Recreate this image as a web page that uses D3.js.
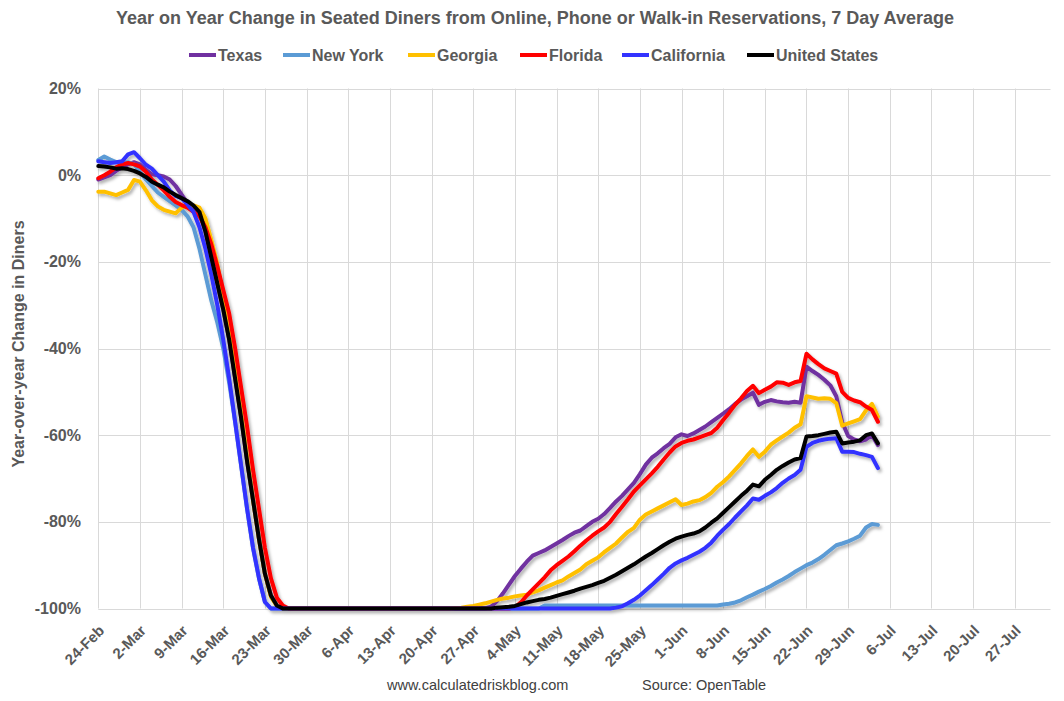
<!DOCTYPE html>
<html>
<head>
  <meta charset="utf-8">
  <style>
    body { margin: 0; background: #fff; }
    svg { font-family: "Liberation Sans", Arial, sans-serif; }
    .grid line { stroke: #d9d9d9; stroke-width: 1; }
    .series { fill: none; stroke-width: 4; stroke-linejoin: round; stroke-linecap: round; }
    .tick-label { font-weight: bold; fill: #595959; }
  </style>
</head>
<body>
  <svg width="1064" height="701"></svg>
  <script src="https://d3js.org/d3.v7.min.js"></script>
  <script>
    // daily values, first day 24-Feb-2020
    const startDate = new Date(2020, 1, 24);
    const endDate = new Date(2020, 7, 2);

    const texas = [-1,-0.5,0,1,1.8,2.5,3,2.5,1.2,0.2, 0,-0.3,-1,-2.5,-4.5,-6.5,-7.5,-9,-13,-19,
      -25,-31,-38,-47,-56,-66,-75,-84,-92,-97, -99.3,
      -100,-100,-100,-100,-100,-100,-100,-100,-100,-100,-100,-100,-100,-100,-100,-100,-100,-100,
      -100,-100,-100,-100,-100,-100,-100,-100,-100,-100,-100,-100,-100,-100,-100,-100,-100,
      -99.6,-98.3,-96.5,-94.5,-92.5,-90.8,-89.2,-87.8,-87.2,-86.6,
      -85.8,-85,-84.2,-83.3,-82.5,-82,-81,-80,-79.3,-78.2,
      -76.8,-75.3,-74,-72.5,-71,-69,-66.8,-65.2,-64.2,-63,
      -62,-60.5,-59.8,-60.2,-59.6,-58.8,-58,-57,-56,-55,
      -54,-52.8,-51.8,-51,-50.2,-53,-52.3,-51.9,-52.2,-52.4,
      -52.5,-52.3,-52.5,-44.2,-45.2,-46.1,-47.2,-48.5,-51,-57,
      -60.2,-61,-61.4,-61,-60,-62.3];

    const newYork = [3.5,4.3,3.6,3,3,3,2.5,0.8,-1,-2.5, -4,-5,-6,-7,-8,-9.5,-12,-17,-23,-29,
      -34,-40,-48,-57,-67,-77,-86,-93,-98.5,
      -100,-100,-100,-100,-100,-100,-100,-100,-100,-100,-100,-100,-100,-100,-100,-100,
      -100,-100,-100,-100,-100,-100,-100,-100,-100,-100,-100,-100,-100,-100,-100,-100,
      -100,-100,-100,-100,-100,-100,-100,-100,-100,-100,-100,-100,-100,-100,
      -99.3,-99.3,-99.3,-99.3,-99.3,-99.3,-99.3,-99.3,-99.3,-99.3,-99.3,-99.3,-99.3,-99.3,-99.3,
      -99.3,-99.3,-99.3,-99.3,-99.3,-99.3,-99.3,-99.3,-99.3,-99.3,-99.3,-99.3,-99.3,-99.3,-99.3,
      -99.1,-98.9,-98.6,-98.1,-97.4,-96.8,-96.1,-95.5,-94.8,-94,
      -93.3,-92.5,-91.6,-90.8,-90,-89.4,-88.6,-87.6,-86.5,-85.4,
      -85,-84.5,-83.9,-83.2,-81.3,-80.5,-80.7];

    const georgia = [-3.8,-3.8,-4.2,-4.6,-4,-3.4,-1.1,-1.5,-3.5,-5.8, -7.2,-8,-8.4,-8.8,-7.5,-6.8,-7,-7.5,-10,-15,
      -20.5,-28,-36,-45.5,-55,-65,-75,-84,-92,-97.3, -99.4,
      -100,-100,-100,-100,-100,-100,-100,-100,-100,-100,-100,-100,-100,-100,-100,
      -100,-100,-100,-100,-100,-100,-100,-100,-100,-100,-100,-100,-100,-100,
      -99.9,-99.8,-99.6,-99.4,-99.1,-98.8,-98.4,-98,-97.7,-97.5,
      -97.2,-97,-96.8,-96.3,-95.8,-95.2,-94.6,-94,-93.5,-92.6,
      -91.8,-91,-89.8,-89,-88.2,-87,-86,-85,-83.6,-82.3,
      -81.4,-79.5,-78.3,-77.6,-76.9,-76.2,-75.5,-74.8,-76.1,-75.8,
      -75.3,-75,-74.3,-73.3,-71.9,-70.8,-69.5,-68,-66.5,-64.8,
      -63.3,-65,-63.8,-62.2,-61.2,-60.3,-59.4,-58.3,-57.5,-51,
      -51.3,-51.6,-51.5,-51.6,-52.6,-57.8,-57.3,-56.8,-56.3,-54.3,
      -52.8,-55.7];

    const florida = [-0.7,0,0.8,1.8,2.5,2.8,2.5,2,0.8,-1, -2.2,-3.5,-5,-6.2,-6.9,-7.5,-8.5,-9.5,-12,-16,
      -21,-26.5,-32,-40,-49,-58,-68,-77,-86,-93, -97.5,-99.3,
      -100,-100,-100,-100,-100,-100,-100,-100,-100,-100,-100,-100,-100,-100,-100,-100,-100,-100,-100,
      -100,-100,-100,-100,-100,-100,-100,-100,-100,-100,-100,-100,-100,-100,-100,-100,-100,-100,-100,
      -99.7,-98.6,-97,-95.6,-94.2,-92.8,-91.2,-90,-89,-88,
      -86.8,-85.5,-84.3,-83.2,-82.2,-81.3,-80,-78.2,-76.5,-74.8,
      -73,-71.6,-70.2,-68.8,-67.3,-65.6,-64,-62.6,-61.8,-61.3,
      -61,-60.5,-60,-59.5,-58.3,-56.5,-54.8,-53,-51.5,-49.8,
      -48.6,-50.3,-49.5,-48.8,-47.8,-47.9,-48.4,-47.8,-47.5,-41.2,
      -42.5,-43.6,-44.6,-45.2,-45.8,-50,-51.4,-52,-52.4,-53.4,
      -54.2,-56.9];

    const california = [3.2,3,2.8,3,3.2,4.8,5.3,3.9,2.4,1.5, 0,-1.5,-3.5,-4.8,-5.3,-6.8,-8.5,-12,-17,-23,
      -30,-38,-47,-57,-67,-77,-86,-93,-98.5,
      -100,-100,-100,-100,-100,-100,-100,-100,-100,-100,-100,-100,-100,-100,-100,-100,-100,-100,-100,-100,
      -100,-100,-100,-100,-100,-100,-100,-100,-100,-100,-100,-100,-100,-100,-100,-100,-100,-100,-100,-100,
      -100,-100,-100,-100,-100,-100,-100,-100,-100,-100,-100,-100,-100,-100,-100,-100,-100,-100,
      -99.8,-99.5,-98.8,
      -98,-97,-95.8,-94.6,-93.3,-92,-90.6,-89.6,-88.9,-88.3,
      -87.6,-86.9,-86,-84.8,-83.2,-81.8,-80.5,-79,-77.6,-76.2,
      -74.6,-74.9,-74,-73.2,-72.2,-71,-70,-69.2,-68,-62.7,
      -61.8,-61.3,-61,-60.8,-60.7,-63.8,-63.8,-63.9,-64.3,-64.6,
      -65,-67.6];

    const unitedStates = [2.1,2,1.8,1.5,1.6,1.4,1,0.4,-0.4,-1.5, -2.2,-2.8,-3.8,-4.6,-5.3,-6,-7,-8.5,-13,-19,
      -25,-31,-38,-47,-56,-66,-75,-84,-92,-97, -99.3,
      -100,-100,-100,-100,-100,-100,-100,-100,-100,-100,-100,-100,-100,-100,-100,-100,-100,-100,
      -100,-100,-100,-100,-100,-100,-100,-100,-100,-100,-100,-100,-100,-100,-100,-100,-100,-100,
      -99.8,-99.7,-99.6,
      -99.4,-99,-98.6,-98.3,-98,-97.8,-97.5,-97.1,-96.7,-96.3,
      -95.9,-95.4,-95,-94.6,-94.1,-93.6,-92.9,-92.2,-91.4,-90.6,
      -89.8,-88.9,-88,-87.2,-86.3,-85.4,-84.6,-83.9,-83.4,-83,
      -82.7,-82.2,-81.3,-80.2,-79.2,-77.9,-76.6,-75.3,-74,-72.8,
      -71.4,-71.8,-70.3,-69.2,-68,-67.1,-66.3,-65.6,-65.3,-60.3,
      -60.2,-60,-59.7,-59.4,-59.2,-61.9,-61.7,-61.5,-61.2,-60,
      -59.6,-61.9];

    const seriesNames = ["Texas", "New York", "Georgia", "Florida", "California", "United States"];
    const seriesColors = ["#7030a0", "#5b9bd5", "#ffc000", "#ff0000", "#3333ff", "#000000"];
    const seriesValues = [texas, newYork, georgia, florida, california, unitedStates];
    const yTicks = [20, 0, -20, -40, -60, -80, -100];

    const svg = d3.select("svg");
    const margin = {top: 88.5, right: 13.5, bottom: 92.5, left: 98.3};
    const width = 1064, height = 701;

    const x = d3.scaleTime().domain([startDate, endDate]).range([margin.left, width - margin.right]);
    const y = d3.scaleLinear().domain([-100, 20]).range([height - margin.bottom, margin.top]);

    const defs = svg.append("defs");
    defs.append("filter")
      .attr("id", "shadow")
      .attr("filterUnits", "userSpaceOnUse")
      .attr("x", 0).attr("y", 0).attr("width", width).attr("height", height)
      .append("feDropShadow")
      .attr("dx", 2).attr("dy", 2.5).attr("stdDeviation", 1.4)
      .attr("flood-color", "#000").attr("flood-opacity", 0.3);

    const xTicks = d3.timeMonday.range(startDate, endDate);

    // gridlines
    const grid = svg.append("g").attr("class", "grid");
    grid.selectAll(".v").data(xTicks).enter().append("line")
      .attr("x1", d => Math.round(x(d)) + 0.5).attr("x2", d => Math.round(x(d)) + 0.5)
      .attr("y1", y(20)).attr("y2", y(-100));
    grid.selectAll(".h").data(yTicks).enter().append("line")
      .attr("x1", margin.left).attr("x2", width - margin.right)
      .attr("y1", d => Math.round(y(d)) + 0.5).attr("y2", d => Math.round(y(d)) + 0.5);

    // y axis labels
    svg.append("g").selectAll("text").data(yTicks).enter().append("text")
      .attr("class", "tick-label")
      .style("font-size", "16px")
      .attr("x", 81).attr("y", d => y(d))
      .attr("dy", "0.35em")
      .attr("text-anchor", "end")
      .text(d => d + "%");

    // x axis labels
    const fmt = d3.timeFormat("%-d-%b");
    svg.append("g").selectAll("text").data(xTicks).enter().append("text")
      .attr("class", "tick-label")
      .style("font-size", "15px")
      .attr("text-anchor", "end")
      .attr("transform", d => `translate(${x(d) + 7},${y(-100) + 23}) rotate(-45)`)
      .text(d => fmt(d));

    // lines
    const line = d3.line()
      .x((d, i) => x(d3.timeDay.offset(startDate, i)))
      .y(d => y(d));

    svg.append("g").attr("filter", "url(#shadow)")
      .selectAll("path").data(seriesValues).enter().append("path")
      .attr("class", "series")
      .attr("stroke", (d, i) => seriesColors[i])
      .attr("d", line);

    // title
    svg.append("text")
      .attr("x", 535).attr("y", 24)
      .attr("text-anchor", "middle")
      .style("font-size", "18px").style("font-weight", "bold").style("fill", "#595959")
      .text("Year on Year Change in Seated Diners from Online, Phone or Walk-in Reservations, 7 Day Average");

    // legend
    const legendX = [189, 283, 408, 520, 622, 747];
    const legend = svg.append("g").selectAll("g").data(seriesNames).enter().append("g")
      .attr("transform", (d, i) => `translate(${legendX[i]},55)`);
    legend.append("line")
      .attr("x1", 0).attr("x2", 27).attr("y1", 0).attr("y2", 0)
      .attr("stroke", (d, i) => seriesColors[i]).attr("stroke-width", 4);
    legend.append("text")
      .attr("x", 29).attr("dy", "0.35em")
      .style("font-size", "16px").style("font-weight", "bold").style("fill", "#595959")
      .text(d => d);

    // y axis title
    svg.append("text")
      .attr("transform", "translate(24,344) rotate(-90)")
      .attr("text-anchor", "middle")
      .style("font-size", "16px").style("font-weight", "bold").style("fill", "#595959")
      .text("Year-over-year Change in Diners");

    // footer
    svg.append("text").attr("x", 387).attr("y", 690)
      .style("font-size", "14.5px").style("fill", "#404040")
      .text("www.calculatedriskblog.com");
    svg.append("text").attr("x", 642).attr("y", 690)
      .style("font-size", "14.5px").style("fill", "#404040")
      .text("Source: OpenTable");
  </script>
</body>
</html>
